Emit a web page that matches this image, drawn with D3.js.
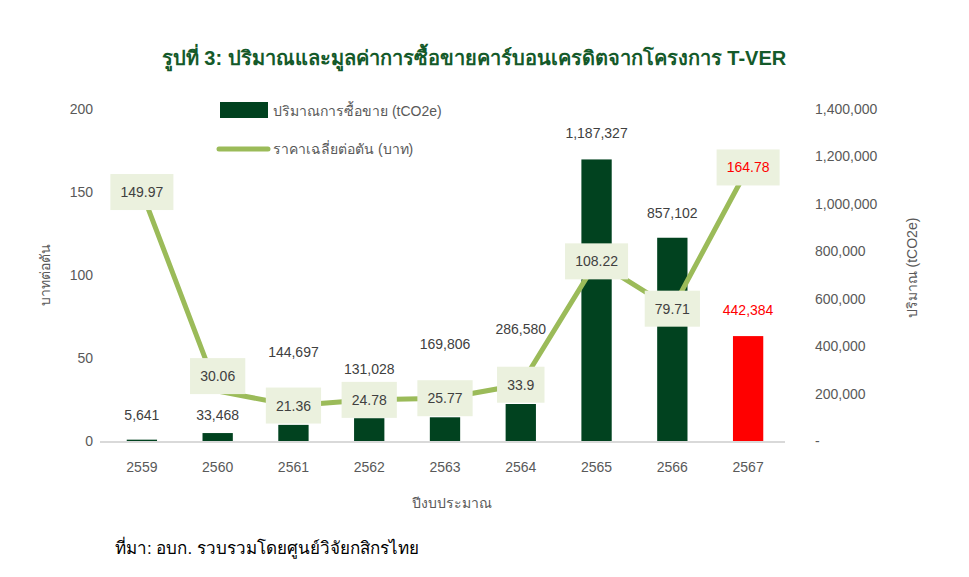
<!DOCTYPE html>
<html><head><meta charset="utf-8">
<script src="https://cdn.jsdelivr.net/npm/d3@7"></script>
<style>body{margin:0;background:#fff}svg{display:block;font-family:"Liberation Sans",Arial,"Noto Sans",sans-serif}</style>
</head><body><svg id="c" width="969" height="577"></svg>
<script>
const years = ["2559","2560","2561","2562","2563","2564","2565","2566","2567"];
const volumes = [5641, 33468, 68000, 96000, 100000, 156000, 1187327, 857102, 442384];
const volumeLabels = ["5,641","33,468","144,697","131,028","169,806","286,580","1,187,327","857,102","442,384"];
const prices = [149.97, 30.06, 21.36, 24.78, 25.77, 33.9, 108.22, 79.71, 164.78];
const priceLabels = ["149.97","30.06","21.36","24.78","25.77","33.9","108.22","79.71","164.78"];
const leftTicks = [0, 50, 100, 150, 200];
const rightTicks = [0, 200000, 400000, 600000, 800000, 1000000, 1200000, 1400000];

// layout-only constants (pixel lifts for labels)
const volLabelLift = [25, 18, 73, 49, 73, 75, 26, 25, 26];
const priceLabelLift = [0, 15, 0, 0, 0, 0, 0, 0, 0];

const svg = d3.select("#c");
const m = {l:100, r:785, t:109, b:441};
const x = d3.scaleBand().domain(years).range([m.l+4, m.r+1]).paddingInner(0.6).paddingOuter(0.3);
const xc = d => x(d) + x.bandwidth()/2;
const yL = d3.scaleLinear().domain([0,200]).range([m.b, m.t]);
const yR = d3.scaleLinear().domain([0,1400000]).range([m.b, m.t]);
const txt = "#595959";

svg.append("text").attr("x", 474).attr("y", 65).attr("text-anchor","middle")
  .attr("font-size", 20).attr("font-weight","bold").attr("fill","#145a2a")
  .text("รูปที่ 3: ปริมาณและมูลค่าการซื้อขายคาร์บอนเครดิตจากโครงการ T-VER");

// left axis
const axL = svg.append("g").attr("transform",`translate(${m.l-7},0)`)
  .call(d3.axisLeft(yL).tickValues(leftTicks).tickSize(0).tickPadding(0));
axL.select(".domain").remove();
axL.selectAll("text").attr("font-size",14).attr("fill",txt).attr("font-family","Liberation Sans, Arial, sans-serif");

// right axis
const axR = svg.append("g").attr("transform",`translate(${m.r+30},0)`)
  .call(d3.axisRight(yR).tickValues(rightTicks).tickSize(0).tickPadding(0)
    .tickFormat(v => v === 0 ? "-" : d3.format(",")(v)));
axR.select(".domain").remove();
axR.selectAll("text").attr("font-size",14).attr("fill",txt).attr("font-family","Liberation Sans, Arial, sans-serif");

// bars
svg.append("g").selectAll("rect").data(years).join("rect")
  .attr("x", d => x(d)).attr("width", x.bandwidth())
  .attr("y", (d,i) => yR(volumes[i])).attr("height", (d,i) => m.b - yR(volumes[i]))
  .attr("fill", (d,i) => i === years.length-1 ? "#ff0000" : "#01421f");

// baseline
svg.append("line").attr("x1", m.l).attr("x2", m.r).attr("y1", m.b+1).attr("y2", m.b+1)
  .attr("stroke","#d9d9d9").attr("stroke-width",2);

// x axis
const axX = svg.append("g").attr("transform",`translate(0,${m.b+20})`)
  .call(d3.axisBottom(x).tickSize(0).tickPadding(0));
axX.select(".domain").remove();
axX.selectAll("text").attr("font-size",14).attr("fill",txt).attr("dy","0.75em");

// bar labels
svg.append("g").selectAll("text").data(years).join("text")
  .attr("x", d => xc(d)).attr("y", (d,i) => yR(volumes[i]) - volLabelLift[i])
  .attr("text-anchor","middle").attr("dominant-baseline","central")
  .attr("font-size",14).attr("fill",(d,i) => i === years.length-1 ? "#ff0000" : "#404040")
  .text((d,i) => volumeLabels[i]);

// line
const line = d3.line().x((d,i) => xc(years[i])).y(d => yL(d));
svg.append("path").datum(prices).attr("d", line).attr("fill","none")
  .attr("stroke","#9bbb59").attr("stroke-width",5).attr("stroke-linejoin","round");

// price labels
const pl = svg.append("g").selectAll("g").data(years).join("g")
  .attr("transform", (d,i) => `translate(${xc(d)},${yL(prices[i]) - priceLabelLift[i]})`);
pl.append("text").attr("text-anchor","middle").attr("dominant-baseline","central")
  .attr("font-size",14).attr("fill",(d,i) => i === years.length-1 ? "#ff0000" : "#404040")
  .text((d,i) => priceLabels[i]);
pl.each(function(){
  const g = d3.select(this); const bb = g.select("text").node().getBBox();
  g.insert("rect","text").attr("x", -bb.width/2 - 10).attr("y", -18)
   .attr("width", bb.width + 20).attr("height", 36).attr("fill","#ebf1de");
});

// legend
svg.append("rect").attr("x",220).attr("y",102).attr("width",48).attr("height",16).attr("fill","#01421f");
svg.append("text").attr("x",273).attr("y",111).attr("dominant-baseline","central")
  .attr("font-size",14).attr("fill",txt).text("ปริมาณการซื้อขาย  (tCO2e)");
svg.append("line").attr("x1",219).attr("x2",268).attr("y1",149).attr("y2",149)
  .attr("stroke","#9bbb59").attr("stroke-width",5).attr("stroke-linecap","round");
svg.append("text").attr("x",273).attr("y",149).attr("dominant-baseline","central")
  .attr("font-size",14).attr("fill",txt).text("ราคาเฉลี่ยต่อตัน  (บาท)");

// axis titles
svg.append("text").attr("transform","translate(45,275) rotate(-90)").attr("text-anchor","middle")
  .attr("dominant-baseline","central").attr("font-size",14).attr("fill",txt).text("บาทต่อตัน");
svg.append("text").attr("transform","translate(912,268) rotate(-90)").attr("text-anchor","middle")
  .attr("dominant-baseline","central").attr("font-size",14).attr("fill",txt).text("ปริมาณ  (tCO2e)");
svg.append("text").attr("x",452).attr("y",503).attr("text-anchor","middle")
  .attr("dominant-baseline","central").attr("font-size",14).attr("fill",txt).text("ปีงบประมาณ");

// source
svg.append("text").attr("x",115).attr("y",548).attr("dominant-baseline","central")
  .attr("font-size",17).attr("fill","#000").text("ที่มา: อบก. รวบรวมโดยศูนย์วิจัยกสิกรไทย");
</script></body></html>
